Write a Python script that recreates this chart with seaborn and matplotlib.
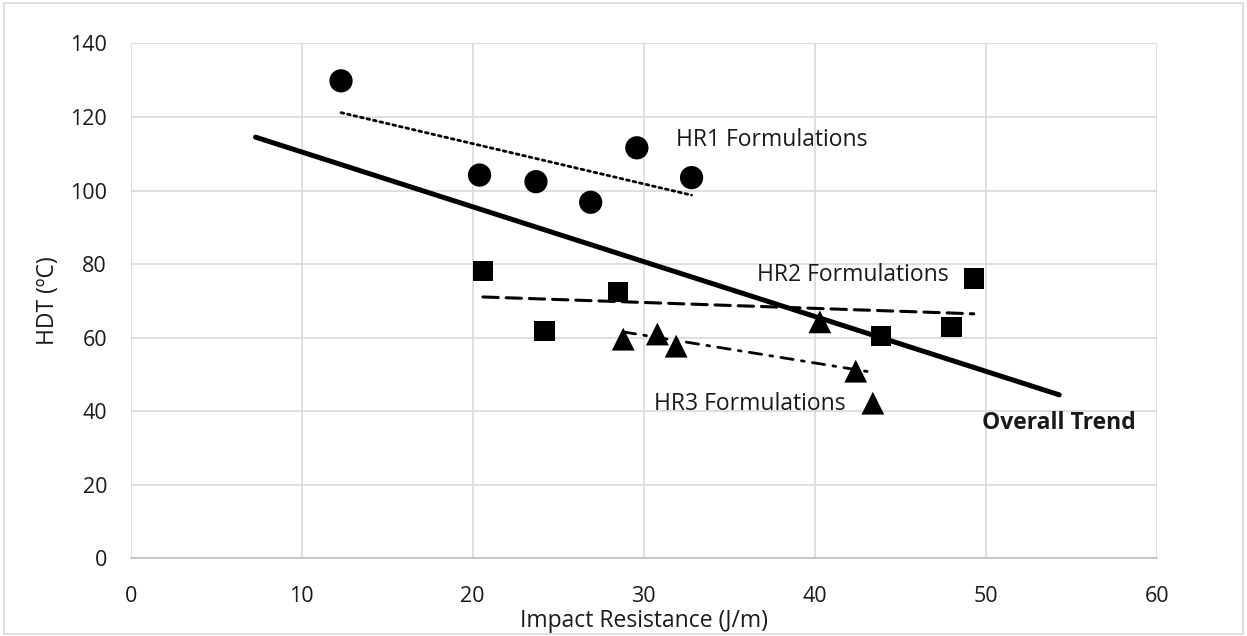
# HDT vs impact resistance scatter with linear trend lines per formulation group
import numpy as np
import pandas as pd
import matplotlib
matplotlib.use('Agg')
import matplotlib.pyplot as plt
import seaborn as sns

# ---- data ----
hr1_impact = [12.3, 20.4, 23.7, 26.9, 29.6, 32.8]
hr1_hdt = [129.8, 104.2, 102.4, 96.8, 111.6, 103.5]

hr2_impact = [20.6, 28.5, 24.2, 43.9, 48.0, 49.3]
hr2_hdt = [78.1, 72.5, 61.9, 60.5, 62.8, 76.1]

hr3_impact = [28.8, 30.8, 31.9, 40.3, 42.4, 43.4]
hr3_hdt = [59.6, 61.0, 57.7, 64.3, 50.9, 42.2]

x_ticks = [0, 10, 20, 30, 40, 50, 60]
y_ticks = [0, 20, 40, 60, 80, 100, 120, 140]

df = pd.DataFrame({
    'impact': hr1_impact + hr2_impact + hr3_impact,
    'hdt': hr1_hdt + hr2_hdt + hr3_hdt,
    'group': ['HR1'] * 6 + ['HR2'] * 6 + ['HR3'] * 6,
})

sns.set_style("white")
plt.rcParams['font.family'] = ['Open Sans', 'DejaVu Sans']

fig = plt.figure(figsize=(12.47, 6.36), dpi=100)
ax = fig.add_axes([0.1048, 0.1219, 0.8228, 0.81])

txt_col = '#1a1a1a'
grid_col = '#d9d9d9'

# group trend lines (least squares fit over each group's range)
styles = {
    'HR1': dict(ls=(0, (1, 1.4)), lw=2.0),
    'HR2': dict(ls=(0, (5, 2.6)), lw=2.2),
    'HR3': dict(ls=(0, (4.5, 3, 1, 3)), lw=2.0),
}
for g, sub in df.groupby('group'):
    sns.regplot(data=sub, x='impact', y='hdt', scatter=False, ci=None,
                truncate=True, ax=ax, color='black',
                line_kws=dict(linestyle=styles[g]['ls'], linewidth=styles[g]['lw'],
                              dash_capstyle='round'))

# overall trend, forecast 5 units either side of the data
slope, icept = np.polyfit(df['impact'], df['hdt'], 1)
xs = np.array([df['impact'].min() - 5, df['impact'].max() + 5])
sns.lineplot(x=xs, y=slope * xs + icept, ax=ax, color='black', linewidth=3.6,
             solid_capstyle='round')

# markers
sns.scatterplot(data=df[df.group == 'HR1'], x='impact', y='hdt', marker='o',
                s=280, color='black', edgecolor='none', ax=ax, zorder=5)
sns.scatterplot(data=df[df.group == 'HR2'], x='impact', y='hdt', marker='s',
                s=210, color='black', edgecolor='none', ax=ax, zorder=5)
sns.scatterplot(data=df[df.group == 'HR3'], x='impact', y='hdt', marker='^',
                s=270, color='black', edgecolor='none', ax=ax, zorder=5)

# labels
lab_fs = 16.5
ax.text(31.9, 113.7, 'HR1 Formulations', fontsize=lab_fs, va='center', ha='left', color=txt_col)
ax.text(36.6, 77.0, 'HR2 Formulations', fontsize=lab_fs, va='center', ha='left', color=txt_col)
ax.text(30.6, 42.0, 'HR3 Formulations', fontsize=lab_fs, va='center', ha='left', color=txt_col)
ax.text(49.8, 36.7, 'Overall Trend', fontsize=lab_fs, va='center', ha='left',
        fontweight='bold', color=txt_col)

# axes styling
ax.set_xlim(0, 60)
ax.set_ylim(0, 140)
ax.set_xticks(x_ticks)
ax.set_yticks(y_ticks)
ax.grid(True, color=grid_col, linewidth=1.2)
ax.set_axisbelow(True)
for side in ['top', 'right', 'left']:
    ax.spines[side].set_visible(False)
ax.spines['bottom'].set_color('#bfbfbf')
ax.spines['bottom'].set_linewidth(1.2)
ax.tick_params(axis='both', length=0, labelsize=15.5, labelcolor=txt_col)
ax.tick_params(axis='y', pad=17)
ax.tick_params(axis='x', pad=19.5)
ax.set_xlabel('Impact Resistance (J/m)', fontsize=16.5, color=txt_col, labelpad=1.5)
ax.set_ylabel('HDT (ºC)', fontsize=16.5, color=txt_col, labelpad=7)

# chart border
fig.patches.append(plt.Rectangle((0.003, 0.003), 0.994, 0.992, transform=fig.transFigure,
                                 fill=False, edgecolor='#d9d9d9', linewidth=1.2))

fig.savefig('out.png', dpi=100)
